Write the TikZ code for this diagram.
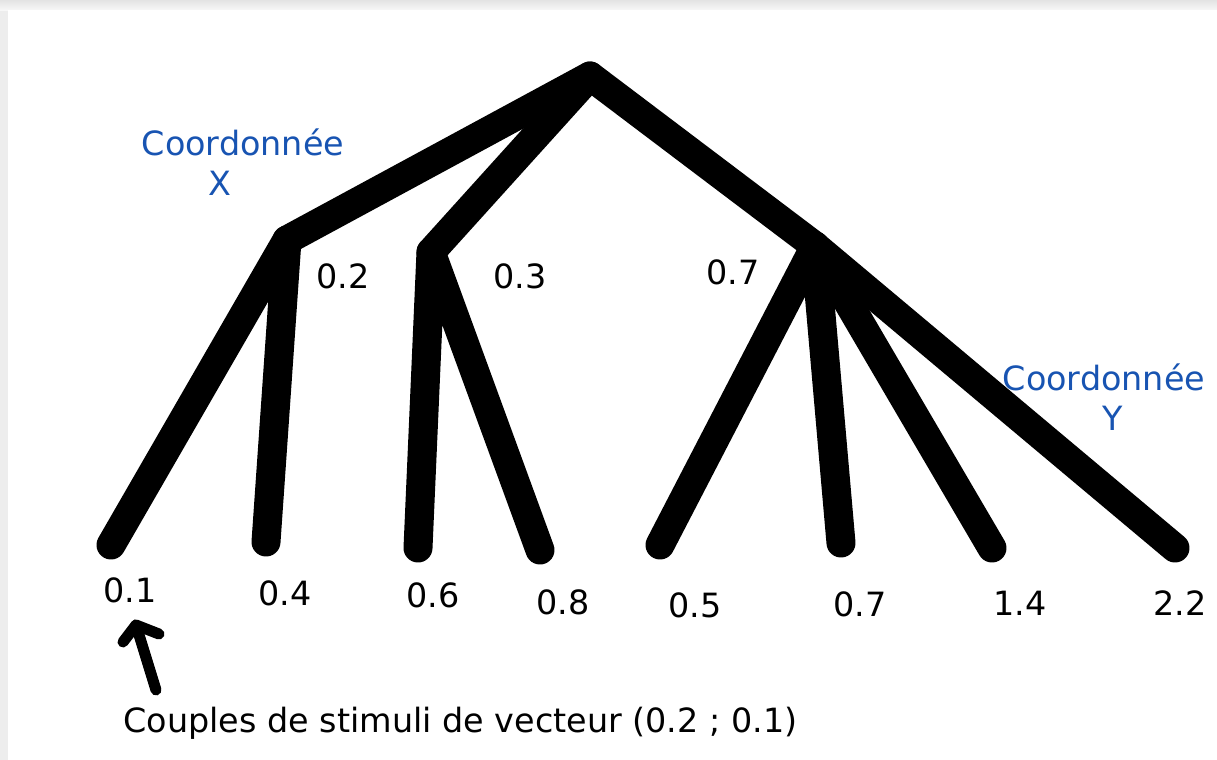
\documentclass[tikz,border=0pt]{standalone}
\usepackage{fontspec}
\setmainfont{DejaVu Sans}
\definecolor{lblblue}{RGB}{24,84,178}
\tikzset{
  branch/.style={line width=14.5pt, line cap=round, line join=round, black},
  lbl/.style={anchor=base, inner sep=0pt, font=\fontsize{16.7}{20}\selectfont},
  coordlbl/.style={lbl, text=lblblue},
  pointer/.style={line width=5.5pt, line cap=round, line join=round, black}
}
\begin{document}
\begin{tikzpicture}[x=0.5pt,y=-0.5pt]
\useasboundingbox (0,0) rectangle (1217,760);
\fill[gray!14] (0,0) rectangle (1217,760);
\shade[top color=gray!22, bottom color=gray!6] (0,0) rectangle (1217,10);
\fill[white] (8,10) rectangle (1217,760);
% tree nodes
\coordinate (R) at (590,76);
\coordinate (A) at (287,240);
\coordinate (B) at (431,252);
\coordinate (C) at (815,246);
\coordinate (l1) at (111,545);
\coordinate (l2) at (266,542);
\coordinate (l3) at (418,548);
\coordinate (l4) at (540,550);
\coordinate (l5) at (660,545);
\coordinate (l6) at (841,543);
\coordinate (l7) at (992,548);
\coordinate (l8) at (1175,548);
\draw[branch] (l1) -- (A) -- (l2);
\draw[branch] (A) -- (R) -- (C);
\draw[branch] (l3) -- (B) -- (l4);
\draw[branch] (B) -- (R);
\draw[branch] (C) -- (l5);
\draw[branch] (C) -- (l6);
\draw[branch] (C) -- (l7);
\draw[branch] (C) -- (l8);
% labels
\node[coordlbl] (cx1) at (243,155) {Coordonnée};
\node[coordlbl] (cx2) at (220,195) {X};
\node[coordlbl] (cy1) at (1104,390) {Coordonnée};
\node[coordlbl] (cy2) at (1113,430) {Y};
\node[lbl] (n02) at (343,288) {0.2};
\node[lbl] (n03) at (520,288) {0.3};
\node[lbl] (n07a) at (733,284) {0.7};
\node[lbl] (v1) at (130,602) {0.1};
\node[lbl] (v2) at (285,605) {0.4};
\node[lbl] (v3) at (433,607) {0.6};
\node[lbl] (v4) at (563,614) {0.8};
\node[lbl] (v5) at (695,617) {0.5};
\node[lbl] (v6) at (860,616) {0.7};
\node[lbl] (v7) at (1020,615) {1.4};
\node[lbl] (v8) at (1180,615) {2.2};
\node[lbl, anchor=base west] (cap) at (123,732) {Couples de stimuli de vecteur (0.2 ; 0.1)};
% pointer arrow
\coordinate (tip) at (136,625);
\coordinate (tail) at (156,690);
\draw[pointer] (tail) -- (tip);
\draw[pointer] (123,642) -- (tip) -- (159,634);
\end{tikzpicture}
\end{document}
